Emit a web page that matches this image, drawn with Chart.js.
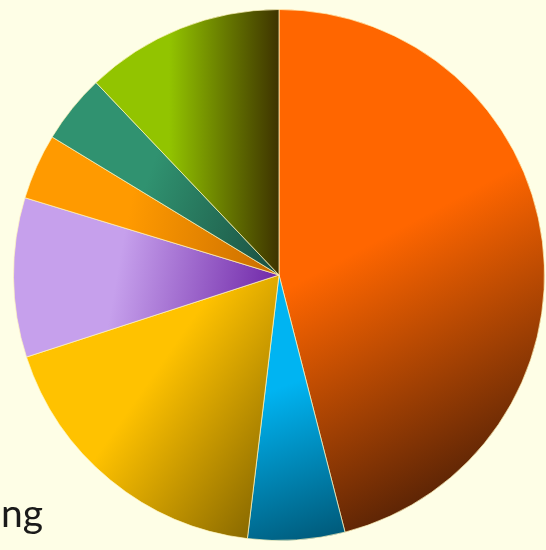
<!DOCTYPE html>
<html>
<head>
<meta charset="utf-8">
<script src="https://cdn.jsdelivr.net/npm/chart.js@4"></script>
<style>
    html, body { margin: 0; padding: 0; background: #FEFEE6; }
    #wrap { position: relative; width: 546px; height: 550px; overflow: hidden; }
    #caption {
        position: absolute; left: 1px; top: 489px;
        font-family: Lato, 'Open Sans', sans-serif; font-size: 39px; color: #1a1a1a;
    }
</style>
</head>
<body>
<div id="wrap">
    <canvas id="pie" width="546" height="550"></canvas>
    <div id="caption">ng</div>
</div>
<script>
// Slice data, clockwise from 12 o'clock
const labels = ['Orange', 'Blue', 'Gold', 'Purple', 'Light orange', 'Teal', 'Lime'];
const values = [46.0, 5.9, 18.1, 9.7, 4.0, 4.2, 12.1];

// Light / dark ends of each slice's shading, and the shading direction (degrees below horizontal)
const lightColors = ['#FF6600', '#00B4F2', '#FFC200', '#C6A0EC', '#FF9A00', '#309270', '#92C400'];
const darkColors  = ['#5E2505', '#005A7A', '#8A6A00', '#7028A8', '#C86C00', '#1A4E40', '#3E3300'];
const shadeAngles = [62, 70, 35, 10, 10, 20, 0];
const lightStops  = [0.5, 0.4, 0.4, 0.4, 0.4, 0.4, 0.4];

// Linear gradient across the slice, light side -> dark side
function sliceGradient(context) {
    const chart = context.chart;
    const area = chart.chartArea;
    const i = context.dataIndex;
    if (!area) return lightColors[i];

    const data = context.dataset.data;
    const total = data.reduce((a, b) => a + b, 0);
    let before = 0;
    for (let k = 0; k < i; k++) before += data[k];

    const cx = (area.left + area.right) / 2;
    const cy = (area.top + area.bottom) / 2;
    const r = Math.min(area.right - area.left, area.bottom - area.top) / 2;
    const a0 = -Math.PI / 2 + before / total * Math.PI * 2;
    const a1 = a0 + data[i] / total * Math.PI * 2;

    const t = shadeAngles[i] * Math.PI / 180;
    const dx = Math.cos(t), dy = Math.sin(t);
    let lo = 0, hi = 0; // projections relative to the centre
    for (let s = 0; s <= 40; s++) {
        const a = a0 + (a1 - a0) * s / 40;
        const p = r * Math.cos(a) * dx + r * Math.sin(a) * dy;
        lo = Math.min(lo, p); hi = Math.max(hi, p);
    }

    const g = chart.ctx.createLinearGradient(cx + lo * dx, cy + lo * dy, cx + hi * dx, cy + hi * dy);
    g.addColorStop(0, lightColors[i]);
    g.addColorStop(lightStops[i], lightColors[i]);
    g.addColorStop(1, darkColors[i]);
    return g;
}

new Chart(document.getElementById('pie'), {
    type: 'pie',
    data: {
        labels: labels,
        datasets: [{
            data: values,
            backgroundColor: sliceGradient,
            borderColor: 'rgba(255, 245, 190, 0.7)',
            borderWidth: 1
        }]
    },
    options: {
        responsive: false,
        animation: false,
        layout: { padding: { left: 13, right: 1, top: 9, bottom: 9 } },
        plugins: {
            legend: { display: false },
            tooltip: { enabled: false }
        }
    }
});
</script>
</body>
</html>
